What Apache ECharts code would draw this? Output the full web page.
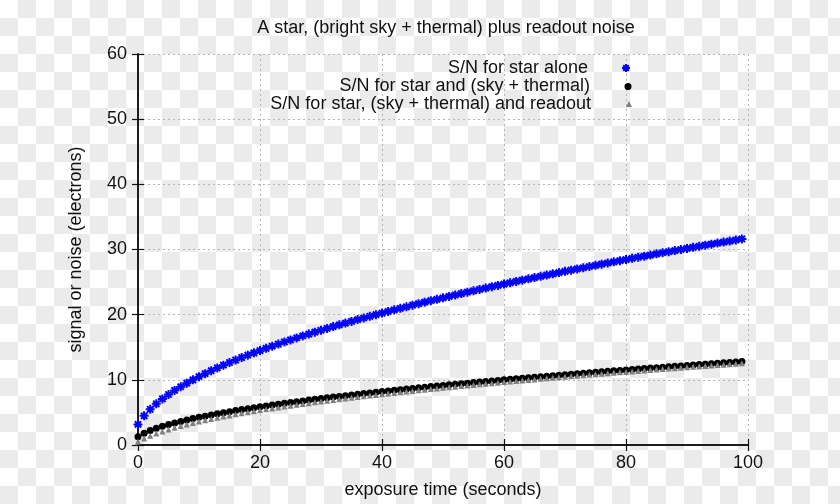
<!DOCTYPE html>
<html>
<head>
<meta charset="utf-8">
<script src="https://cdn.jsdelivr.net/npm/echarts@6/dist/echarts.min.js"></script>
<style>
  html, body { margin: 0; padding: 0; }
  body {
    width: 840px; height: 504px;
    background: repeating-conic-gradient(#ebebeb 0 25%, #ffffff 0 50%) 0 0 / 36px 36px;
  }
  #main { width: 840px; height: 504px; }
</style>
</head>
<body>
<div id="main"></div>
<script>
// exposure times sampled every second
let times = Array.from({ length: 100 }, (_, i) => i)

let starAlone = [
  3.16, 4.47, 5.48, 6.32, 7.07, 7.75, 8.37, 8.94, 9.49, 10.0,
  10.49, 10.95, 11.40, 11.83, 12.25, 12.65, 13.04, 13.42, 13.78, 14.14,
  14.49, 14.83, 15.17, 15.49, 15.81, 16.12, 16.43, 16.73, 17.03, 17.32,
  17.61, 17.89, 18.17, 18.44, 18.71, 18.97, 19.24, 19.49, 19.75, 20.0,
  20.25, 20.49, 20.74, 20.98, 21.21, 21.45, 21.68, 21.91, 22.14, 22.36,
  22.58, 22.80, 23.02, 23.24, 23.45, 23.66, 23.87, 24.08, 24.29, 24.49,
  24.70, 24.90, 25.10, 25.30, 25.50, 25.69, 25.88, 26.08, 26.27, 26.46,
  26.65, 26.83, 27.02, 27.20, 27.39, 27.57, 27.75, 27.93, 28.11, 28.28,
  28.46, 28.64, 28.81, 28.98, 29.15, 29.33, 29.50, 29.66, 29.83, 30.0,
  30.17, 30.33, 30.50, 30.66, 30.82, 30.98, 31.14, 31.30, 31.46, 31.62
]

let starSky = [
  1.28, 1.81, 2.22, 2.56, 2.86, 3.14, 3.39, 3.62, 3.84, 4.05,
  4.25, 4.43, 4.62, 4.79, 4.96, 5.12, 5.28, 5.43, 5.58, 5.72,
  5.87, 6.00, 6.14, 6.27, 6.40, 6.53, 6.65, 6.77, 6.89, 7.01,
  7.13, 7.24, 7.35, 7.46, 7.57, 7.68, 7.79, 7.89, 7.99, 8.10,
  8.20, 8.30, 8.39, 8.49, 8.59, 8.68, 8.78, 8.87, 8.96, 9.05,
  9.14, 9.23, 9.32, 9.41, 9.49, 9.58, 9.66, 9.75, 9.83, 9.91,
  10.00, 10.08, 10.16, 10.24, 10.32, 10.40, 10.48, 10.55, 10.63, 10.71,
  10.79, 10.86, 10.94, 11.01, 11.08, 11.16, 11.23, 11.30, 11.38, 11.45,
  11.52, 11.59, 11.66, 11.73, 11.80, 11.87, 11.94, 12.01, 12.08, 12.14,
  12.21, 12.28, 12.34, 12.41, 12.48, 12.54, 12.61, 12.67, 12.74, 12.80
]

let starSkyReadout = [
  0.55, 1.01, 1.41, 1.76, 2.09, 2.38, 2.65, 2.91, 3.14, 3.37,
  3.59, 3.79, 3.99, 4.18, 4.36, 4.53, 4.70, 4.87, 5.03, 5.18,
  5.33, 5.48, 5.62, 5.76, 5.90, 6.04, 6.17, 6.30, 6.42, 6.55,
  6.67, 6.79, 6.91, 7.02, 7.14, 7.25, 7.36, 7.47, 7.58, 7.68,
  7.79, 7.89, 7.99, 8.10, 8.20, 8.29, 8.39, 8.49, 8.58, 8.68,
  8.77, 8.86, 8.95, 9.05, 9.13, 9.22, 9.31, 9.40, 9.49, 9.57,
  9.66, 9.74, 9.82, 9.91, 9.99, 10.07, 10.15, 10.23, 10.31, 10.39,
  10.47, 10.55, 10.62, 10.70, 10.77, 10.85, 10.93, 11.00, 11.07, 11.15,
  11.22, 11.29, 11.37, 11.44, 11.51, 11.58, 11.65, 11.72, 11.79, 11.86,
  11.93, 12.00, 12.06, 12.13, 12.20, 12.27, 12.33, 12.40, 12.46, 12.53
]

let seriesNames = [
  'S/N for star alone',
  'S/N for star and (sky + thermal)',
  'S/N for star, (sky + thermal) and readout'
]

let font = 'Liberation Sans, Arial, sans-serif'
let asterisk = 'path://M5 0V10M0 5H10M1.5 1.5L8.5 8.5M1.5 8.5L8.5 1.5'

let myChart = echarts.init(document.getElementById('main'))

let pairs = (vals) => vals.map((v, i) => [times[i], v])

let legendTops = [59, 77, 94]
let legendIcons = [asterisk, 'circle', 'triangle']
let legendSizes = [8, 7, 6]
let legends = seriesNames.map((name, i) => ({
    data: [{ name: name, icon: legendIcons[i] }],
    right: 209 - (8 - legendSizes[i]) / 2,
    top: legendTops[i] + (8 - legendSizes[i]) / 2,
    align: 'right',
    itemWidth: legendSizes[i],
    itemHeight: legendSizes[i],
    itemGap: 0,
    padding: 0,
    selectedMode: false,
    textStyle: {
        fontFamily: font, fontSize: 18, color: '#111',
        padding: [0, 29 + (8 - legendSizes[i]) / 2, 0, 0]
    }
}))

let axisCommon = {
    type: 'value',
    axisLine: { show: true, lineStyle: { color: '#111', width: 1.5 } },
    axisTick: { show: true, inside: true, length: 6, lineStyle: { color: '#111', width: 1.2 } },
    axisLabel: { fontFamily: font, fontSize: 18, color: '#111' },
    nameTextStyle: { fontFamily: font, fontSize: 18, color: '#111' }
}

let option = {
    animation: false,
    backgroundColor: 'transparent',
    title: {
        text: 'A star, (bright sky + thermal) plus readout noise',
        left: 441,
        textAlign: 'center',
        top: 14,
        textStyle: { fontFamily: font, fontSize: 18, fontWeight: 'normal', color: '#111' }
    },
    legend: legends,
    grid: { left: 138, right: 92, top: 54, bottom: 55 },
    xAxis: [
        Object.assign({}, axisCommon, {
            min: 0, max: 100, interval: 20,
            name: 'exposure time (seconds)',
            nameLocation: 'middle',
            nameGap: 36,
            axisLabel: Object.assign({}, axisCommon.axisLabel, { margin: 9 }),
            splitLine: { show: true, lineStyle: { color: '#b4b4b4', type: [2, 3], width: 1 } }
        }),
        Object.assign({}, axisCommon, {
            min: 0, max: 100, interval: 20,
            position: 'top',
            axisLabel: { show: false },
            splitLine: { show: false }
        })
    ],
    yAxis: [
        Object.assign({}, axisCommon, {
            min: 0, max: 60, interval: 10,
            name: 'signal or noise (electrons)',
            nameLocation: 'middle',
            nameGap: 53,
            axisLabel: Object.assign({}, axisCommon.axisLabel, { margin: 11 }),
            splitLine: { show: true, lineStyle: { color: '#b4b4b4', type: [2, 3], width: 1 } }
        }),
        Object.assign({}, axisCommon, {
            min: 0, max: 60, interval: 10,
            position: 'right',
            axisLabel: { show: false },
            splitLine: { show: false }
        })
    ],
    series: [
        {
            name: seriesNames[0],
            type: 'scatter',
            symbol: asterisk,
            symbolSize: 9,
            itemStyle: { color: '#0000ff', borderColor: '#0000ff', borderWidth: 2, opacity: 1 },
            data: pairs(starAlone)
        },
        {
            name: seriesNames[1],
            type: 'scatter',
            symbol: 'circle',
            symbolSize: 7,
            itemStyle: { color: '#000', opacity: 1 },
            data: pairs(starSky)
        },
        {
            name: seriesNames[2],
            type: 'scatter',
            symbol: 'triangle',
            symbolSize: 6,
            itemStyle: { color: '#808080', opacity: 1 },
            data: pairs(starSkyReadout)
        }
    ]
}

myChart.setOption(option)
</script>
</body>
</html>
